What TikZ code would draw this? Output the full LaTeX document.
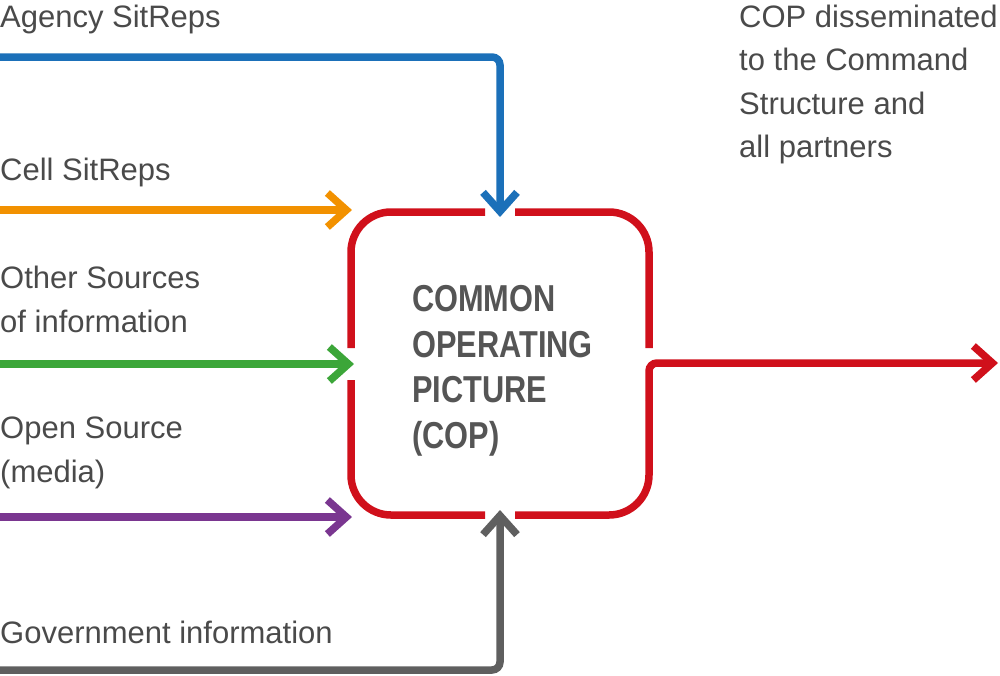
\documentclass[tikz,border=0pt]{standalone}
\usepackage{fontspec}
\setmainfont{Liberation Sans}
\newfontfamily\copfont[FakeStretch=0.82]{Liberation Sans}
\usetikzlibrary{arrows.meta}
\definecolor{cblue}{HTML}{1B70B9}
\definecolor{corange}{HTML}{F29100}
\definecolor{cgreen}{HTML}{3CA639}
\definecolor{cpurple}{HTML}{7A3690}
\definecolor{cred}{HTML}{D0101B}
\definecolor{cgray}{HTML}{5F5F5F}
\definecolor{ctext}{HTML}{4A4A4A}
\definecolor{ctextb}{HTML}{555555}
\begin{document}
\begin{tikzpicture}[x=1pt,y=1pt,
  conn/.style={line width=7.5pt, -{Straight Barb[length=19pt,width=34pt]}, rounded corners=8pt},
  boxline/.style={line width=7.5pt, draw=cred, rounded corners=40pt},
  lbl/.style={anchor=base west, inner sep=0pt, align=left, text=ctext, font=\fontsize{31}{44}\selectfont},
  rlbl/.style={lbl, font=\fontsize{31}{43.5}\selectfont},
  coplbl/.style={anchor=base west, inner sep=0pt, align=left, text=ctextb, font=\copfont\bfseries\fontsize{37.5}{45.4}\selectfont}]
\useasboundingbox (0,0) rectangle (1000,-675);
% box geometry
\coordinate (tl) at (351,-212);
\coordinate (tr) at (649,-212);
\coordinate (bl) at (351,-515);
\coordinate (br) at (649,-515);
\coordinate (tgL) at (485,-212);
\coordinate (tgR) at (515,-212);
\coordinate (bgL) at (485,-515);
\coordinate (bgR) at (515,-515);
\coordinate (lgT) at (351,-348);
\coordinate (lgB) at (351,-380);
\coordinate (rgT) at (649,-348);
\coordinate (jn) at (649,-363);
\coordinate (jnb) at (649,-400);
% connector ends
\coordinate (bS) at (0,-57);
\coordinate (bC) at (500,-57);
\coordinate (bE) at (500,-217);
\coordinate (oS) at (0,-210);
\coordinate (oE) at (352,-210);
\coordinate (gS) at (0,-364);
\coordinate (gE) at (354,-364);
\coordinate (pS) at (0,-517);
\coordinate (pE) at (352,-517);
\coordinate (kS) at (0,-670);
\coordinate (kC) at (500,-670);
\coordinate (kE) at (500,-510);
\coordinate (rE) at (998,-363);
% box pieces
\draw[boxline] (tgL) -- (tl) -- (lgT);
\draw[boxline] (lgB) -- (bl) -- (bgL);
\draw[boxline] (tgR) -- (tr) -- (rgT);
\draw[boxline] (bgR) -- (br) -- (jnb);
% connectors
\draw[conn, draw=cblue] (bS) -- (bC) -- (bE);
\draw[conn, draw=corange] (oS) -- (oE);
\draw[conn, draw=cgreen] (gS) -- (gE);
\draw[conn, draw=cpurple] (pS) -- (pE);
\draw[conn, draw=cgray] (kS) -- (kC) -- (kE);
\draw[conn, draw=cred] (jnb) -- (jn) -- (rE);
% labels (base anchor = baseline of last line)
\node[lbl] (agency) at (0,-27) {Agency SitReps};
\node[lbl] (cell) at (0,-180) {Cell SitReps};
\node[lbl] (other) at (0,-332) {Other Sources\\of information};
\node[lbl] (open) at (0,-482) {Open Source\\(media)};
\node[lbl] (gov) at (0,-643) {Government information};
\node[rlbl] (dissem) at (739,-157.5) {COP disseminated\\to the Command\\Structure and\\all partners};
\node[coplbl] (cop) at (412,-448) {COMMON\\OPERATING\\PICTURE\\(COP)};
\end{tikzpicture}
\end{document}
